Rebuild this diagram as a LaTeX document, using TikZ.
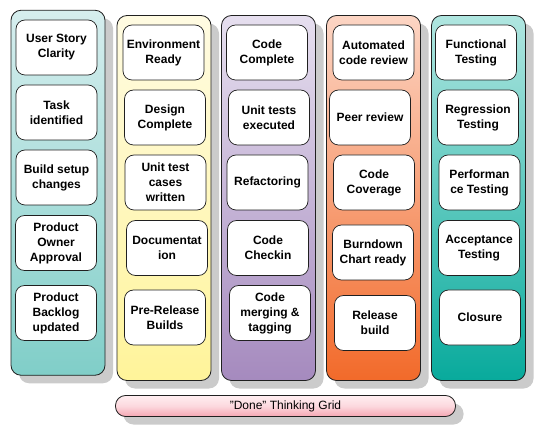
\documentclass[tikz,border=0pt]{standalone}
\usepackage{fontspec}
\setmainfont{Liberation Sans}
\usetikzlibrary{shadows}
\definecolor{tealA}{HTML}{D6EEEE}\definecolor{tealB}{HTML}{80CEC8}
\definecolor{yelA}{HTML}{FFFBE2}\definecolor{yelB}{HTML}{FFF49A}
\definecolor{purA}{HTML}{E6DFEF}\definecolor{purB}{HTML}{A58ABE}
\definecolor{orA}{HTML}{FCD5C4}\definecolor{orB}{HTML}{F26A2A}
\definecolor{grA}{HTML}{B0E6E0}\definecolor{grB}{HTML}{08AA9C}
\definecolor{pkA}{HTML}{FFEEF1}\definecolor{pkB}{HTML}{F5A6B2}
\definecolor{shad}{HTML}{CBCBCB}
\definecolor{edge}{HTML}{202020}
\tikzset{
  colbox/.style={draw=edge, line width=0.8pt, rounded corners=10pt,
    minimum width=94pt, minimum height=365pt, inner sep=0pt,
    drop shadow={shadow xshift=8pt, shadow yshift=-8pt, fill=shad, opacity=1}},
  itembox/.style={draw=edge, line width=0.7pt, fill=white, rounded corners=9pt,
    minimum width=81pt, minimum height=55pt, inner sep=0pt, align=center,
    font=\bfseries\fontsize{12pt}{15pt}\selectfont},
  barbox/.style={draw=edge, line width=0.8pt, rounded corners=10pt,
    minimum width=340pt, minimum height=21pt, inner sep=0pt,
    top color=pkA, bottom color=pkB, middle color=pkA!70!pkB,
    font=\fontsize{12pt}{15pt}\selectfont,
    drop shadow={shadow xshift=8pt, shadow yshift=-8pt, fill=shad, opacity=1}}
}
\begin{document}
\begin{tikzpicture}[x=1pt,y=-1pt]
\useasboundingbox (0,0) rectangle (535,427);
% columns
\node[colbox, top color=tealA, bottom color=tealB] (c1) at (58,192.75) {};
\node[colbox, top color=yelA, bottom color=yelB] (c2) at (164,198) {};
\node[colbox, top color=purA, bottom color=purB] (c3) at (268.5,198) {};
\node[colbox, top color=orA, bottom color=orB] (c4) at (373.5,198) {};
\node[colbox, top color=grA, bottom color=grB] (c5) at (478.5,198) {};
% column 1
\node[itembox] (a1) at (56.5,47.5) {User Story\\Clarity};
\node[itembox] (a2) at (56.5,112.5) {Task\\identified};
\node[itembox] (a3) at (56.5,177.5) {Build setup\\changes};
\node[itembox] (a4) at (56,243) {Product\\Owner\\Approval};
\node[itembox] (a5) at (56,313) {Product\\Backlog\\updated};
% column 2
\node[itembox] (b1) at (163.5,52.5) {Environment\\Ready};
\node[itembox] (b2) at (165,117.5) {Design\\Complete};
\node[itembox] (b3) at (165.5,182.5) {Unit test\\cases\\written};
\node[itembox] (b4) at (167,248) {Documentat\\ion};
\node[itembox] (b5) at (165,317.5) {Pre-Release\\Builds};
% column 3
\node[itembox] (d1) at (267,52.5) {Code\\Complete};
\node[itembox] (d2) at (269,117.5) {Unit tests\\executed};
\node[itembox] (d3) at (267.5,182.5) {Refactoring};
\node[itembox] (d4) at (268,248) {Code\\Checkin};
\node[itembox] (d5) at (270,313) {Code\\merging \&\\tagging};
% column 4
\node[itembox] (e1) at (373.5,52.5) {Automated\\code review};
\node[itembox] (e2) at (370,117.5) {Peer review};
\node[itembox] (e3) at (374,182.5) {Code\\Coverage};
\node[itembox] (e4) at (373,252.5) {Burndown\\Chart ready};
\node[itembox] (e5) at (375,323) {Release\\build};
% column 5
\node[itembox] (f1) at (476,52.5) {Functional\\Testing};
\node[itembox] (f2) at (478,117.5) {Regression\\Testing};
\node[itembox] (f3) at (479.5,182.5) {Performan\\ce Testing};
\node[itembox] (f4) at (479,248) {Acceptance\\Testing};
\node[itembox] (f5) at (480,317.5) {Closure};
% bottom bar
\node[barbox] (bar) at (285.5,406) {"Done" Thinking Grid};
\end{tikzpicture}
\end{document}
